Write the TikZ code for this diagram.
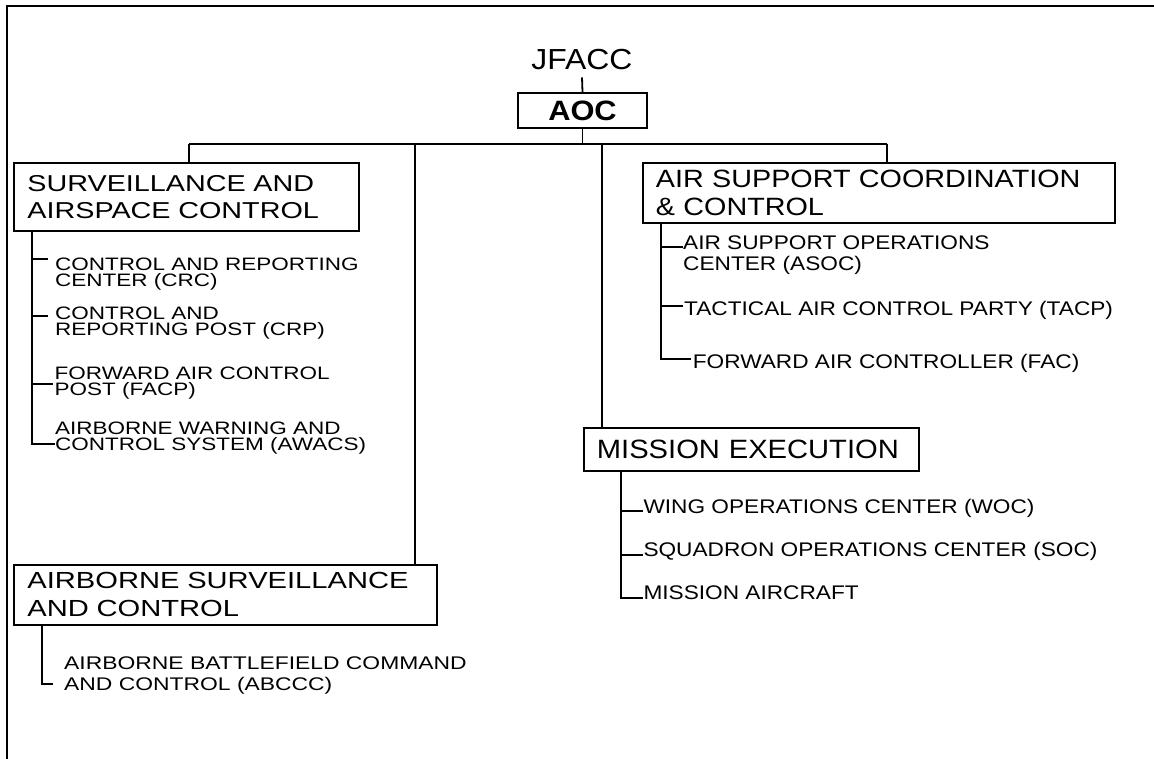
\documentclass[tikz,border=0pt]{standalone}
\usepackage{fontspec}
\setmainfont{Liberation Sans}
\newfontfamily\wideA[FakeStretch=1.25]{Liberation Sans}
\newfontfamily\wideB[FakeStretch=1.15]{Liberation Sans}
\newfontfamily\wideC[FakeStretch=1.1]{Liberation Sans}

\tikzset{unitbox/.style = {draw,
                           line width=1.8pt,
                           anchor=north west,
                           inner xsep=13.5pt,
                           inner ysep=0pt,
                           align=left},
         subitem/.style = {anchor=base west,
                           inner sep=0pt,
                           align=left},
         link/.style = {line width=1.8pt}}

\begin{document}
\begin{tikzpicture}[x=1pt,y=-1pt]
		\useasboundingbox (0,0) rectangle (1154,759);
		\draw[line width=2.5pt] (1154,6) -- (7,6) -- (7,759);

		\node[anchor=base, inner sep=0pt, inner ysep=7pt, font=\wideC\fontsize{29}{32}\selectfont] (jfacc) at (582,70) {JFACC};
		\node[unitbox, anchor=center, align=center, minimum width=129pt, minimum height=35pt, font=\wideC\bfseries\fontsize{28}{30}\selectfont] (aoc) at (582.5,110.5) {AOC};

		\node[unitbox, text width=318pt, minimum height=68pt, font=\wideA\fontsize{23}{27.3}\selectfont] (sac) at (13,162) {SURVEILLANCE AND\\AIRSPACE CONTROL};
		\node[unitbox, inner xsep=13pt, text width=446pt, minimum height=60pt, font=\wideB\fontsize{25}{27.7}\selectfont] (ascc) at (642,162) {AIR SUPPORT COORDINATION\\\& CONTROL};
		\node[unitbox, text width=396pt, minimum height=60pt, font=\wideA\fontsize{23.3}{28}\selectfont] (asc) at (13,564) {AIRBORNE SURVEILLANCE\\AND CONTROL};
		\node[unitbox, inner xsep=13pt, text width=309pt, minimum height=43pt, font=\wideC\fontsize{26.5}{30}\selectfont] (me) at (583,427) {MISSION EXECUTION};

		\node[subitem, font=\wideA\fontsize{18}{16}\selectfont] (crc) at (55,287) {CONTROL AND REPORTING\\CENTER (CRC)};
		\node[subitem, font=\wideA\fontsize{18}{16}\selectfont] (crp) at (55,335) {CONTROL AND\\REPORTING POST (CRP)};
		\node[subitem, font=\wideA\fontsize{18}{16}\selectfont] (facp) at (54.5,395) {FORWARD AIR CONTROL\\POST (FACP)};
		\node[subitem, font=\wideA\fontsize{18}{16}\selectfont] (awacs) at (55,450) {AIRBORNE WARNING AND\\CONTROL SYSTEM (AWACS)};

		\node[subitem, font=\wideB\fontsize{19.7}{20.7}\selectfont] (asoc) at (683,270.7) {AIR SUPPORT OPERATIONS\\CENTER (ASOC)};
		\node[subitem, font=\wideB\fontsize{19.7}{20.7}\selectfont] (tacp) at (684,316) {TACTICAL AIR CONTROL PARTY (TACP)};
		\node[subitem, font=\wideB\fontsize{19.7}{20.7}\selectfont] (fac) at (692.7,368.3) {FORWARD AIR CONTROLLER (FAC)};

		\node[subitem, font=\wideB\fontsize{19.7}{20.7}\selectfont] (woc) at (643.3,513.3) {WING OPERATIONS CENTER (WOC)};
		\node[subitem, font=\wideB\fontsize{19.7}{20.7}\selectfont] (soc) at (643.3,556.7) {SQUADRON OPERATIONS CENTER (SOC)};
		\node[subitem, font=\wideB\fontsize{19.7}{20.7}\selectfont] (msnac) at (643.3,599) {MISSION AIRCRAFT};

		\node[subitem, font=\wideA\fontsize{18.3}{21.4}\selectfont] (abccc) at (64,690.7) {AIRBORNE BATTLEFIELD COMMAND\\AND CONTROL (ABCCC)};

		\coordinate (bus1) at (189,144);
		\coordinate (bus2) at (415,144);
		\coordinate (bus3) at (602,144);
		\coordinate (bus4) at (887,144);
		\coordinate (s1) at ([xshift=19.3pt]sac.south west);
		\coordinate (s2) at ([xshift=19pt]ascc.south west);
		\coordinate (s3) at ([xshift=38pt]me.south west);
		\coordinate (s4) at ([xshift=29pt]asc.south west);

		\draw[link] (jfacc.south) -- (aoc.north);
		\draw[link] (aoc.south) -- (aoc.south |- bus1);
		\draw[link] (bus1) -- (bus4);
		\draw[link] (bus1) -- (bus1 |- sac.north);
		\draw[link] (bus2) -- (bus2 |- asc.north);
		\draw[link] (bus3) -- (bus3 |- me.north);
		\draw[link] (bus4) -- (bus4 |- ascc.north);

		\draw[link] (s1) |- ([shift={(-6.7,-28)}]crc.base west);
		\draw[link] (s1) |- ([shift={(-6.7,-19)}]crp.base west);
		\draw[link] (s1) |- ([shift={(-1.2,-11)}]facp.base west);
		\draw[link] (s1) |- ([shift={(0,-5.7)}]awacs.base west);

		\draw[link] (s2) |- ([shift={(0,-24)}]asoc.base west);
		\draw[link] (s2) |- ([shift={(-1,-10)}]tacp.base west);
		\draw[link] (s2) |- ([shift={(-1.7,-9.3)}]fac.base west);

		\draw[link] (s3) |- ([shift={(0,-2.6)}]woc.base west);
		\draw[link] (s3) |- ([shift={(0,-1.7)}]soc.base west);
		\draw[link] (s3) |- ([shift={(0,-0.7)}]msnac.base west);

		\draw[link] (s4) |- ([shift={(-10.7,-6.7)}]abccc.base west);
	\end{tikzpicture}
\end{document}
